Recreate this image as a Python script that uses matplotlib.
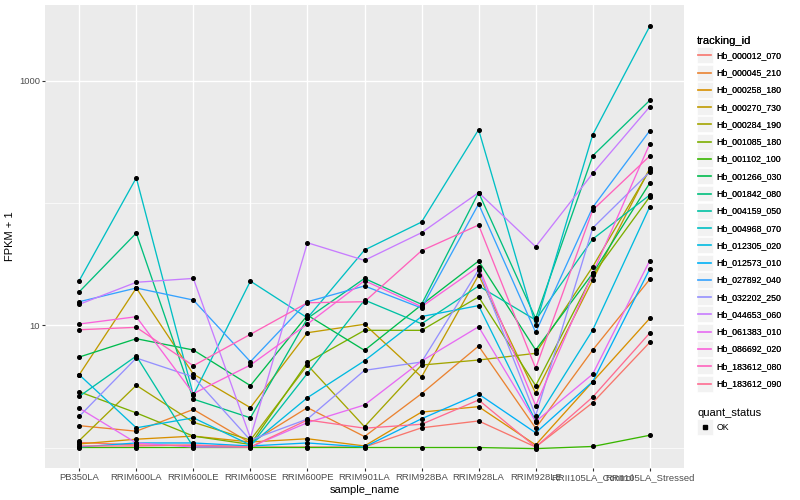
import matplotlib
matplotlib.use('Agg')
import matplotlib.pyplot as plt
from matplotlib.legend_handler import HandlerBase
from matplotlib.patches import Rectangle
from matplotlib.lines import Line2D
from matplotlib.ticker import FixedLocator, NullFormatter

plt.rcParams['font.family'] = ['Liberation Sans', 'DejaVu Sans']

samples = ["PB350LA", "RRIM600LA", "RRIM600LE", "RRIM600SE", "RRIM600PE",
           "RRIM901LA", "RRIM928BA", "RRIM928LA", "RRIM928LE",
           "RRII105LA_Control", "RRII105LA_Stressed"]

tracking_ids = ["Hb_000012_070", "Hb_000045_210", "Hb_000258_180", "Hb_000270_730",
                "Hb_000284_190", "Hb_001085_180", "Hb_001102_100", "Hb_001266_030",
                "Hb_001842_080", "Hb_004159_050", "Hb_004968_070", "Hb_012305_020",
                "Hb_012573_010", "Hb_027892_040", "Hb_032202_250", "Hb_044653_060",
                "Hb_061383_010", "Hb_086692_020", "Hb_183612_080", "Hb_183612_090"]

colors = ["#F8766D", "#EA8331", "#D89000", "#C09B00", "#A3A500", "#7CAE00", "#39B600",
          "#00BB4E", "#00BF7D", "#00C1A3", "#00BFC4", "#00BAE0", "#00B0F6", "#35A2FF",
          "#9590FF", "#C77CFF", "#E76BF3", "#FA62DB", "#FF62BC", "#FF6C91"]

# FPKM + 1 per sample (order of `samples`)
hb_000012_070 = [1.10, 1.05, 1.04, 1.01, 1.01, 1.01, 1.45, 1.65, 1.01, 2.33, 7.26]
hb_000045_210 = [1.51, 1.36, 2.05, 1.09, 2.12, 1.23, 2.76, 6.77, 1.44, 6.28, 23.8]
hb_000258_180 = [1.07, 1.17, 1.24, 1.11, 1.18, 1.03, 1.95, 2.16, 1.05, 3.46, 11.4]
hb_000270_730 = [3.94, 20.2, 3.99, 2.12, 8.70, 10.2, 3.78, 25.8, 2.78, 23.5, 193.0]
hb_000284_190 = [1.14, 3.23, 1.61, 1.15, 4.73, 1.48, 4.73, 5.20, 5.90, 30.2, 187.0]
hb_001085_180 = [2.86, 1.92, 1.24, 1.06, 4.98, 9.10, 9.10, 17.1, 3.21, 25.8, 112.8]
hb_001102_100 = [1.00, 1.00, 1.00, 1.00, 1.00, 1.00, 1.00, 1.00, 0.98, 1.02, 1.26]
hb_001266_030 = [5.50, 7.77, 6.28, 3.21, 12.1, 6.24, 14.7, 33.6, 6.28, 26.6, 146.0]
hb_001842_080 = [18.8, 56.9, 2.49, 1.75, 11.4, 24.2, 14.85, 122.0, 11.4, 244.0, 693.0]
hb_004159_050 = [2.62, 5.61, 1.01, 1.03, 4.05, 16.1, 10.3, 21.0, 11.05, 50.8, 116.5]
hb_004968_070 = [23.2, 161.0, 2.69, 23.0, 11.5, 41.3, 70.0, 399.0, 10.06, 363.0, 2800.0]
hb_012305_020 = [3.94, 1.45, 1.75, 1.05, 2.56, 5.13, 11.8, 14.5, 1.65, 9.15, 93.4]
hb_012573_010 = [1.01, 1.09, 1.09, 1.03, 1.09, 1.01, 1.72, 2.74, 1.32, 3.46, 28.9]
hb_027892_040 = [15.6, 20.2, 16.1, 5.04, 15.6, 21.0, 13.85, 98.3, 8.76, 92.4, 391.0]
hb_032202_250 = [1.80, 5.40, 3.78, 1.15, 1.71, 4.28, 5.01, 28.4, 1.82, 62.6, 180.0]
hb_044653_060 = [14.85, 22.5, 24.2, 1.20, 47.4, 34.0, 57.3, 122.0, 44.0, 175.0, 615.0]
hb_061383_010 = [2.10, 1.09, 1.01, 1.01, 1.60, 2.23, 5.10, 9.74, 1.63, 3.99, 33.9]
hb_086692_020 = [10.25, 11.76, 2.76, 4.73, 10.25, 23.2, 14.2, 30.2, 2.20, 26.6, 306.0]
hb_183612_080 = [9.20, 9.63, 4.67, 8.44, 15.3, 15.6, 40.8, 66.2, 4.45, 87.8, 243.0]
hb_183612_090 = [1.03, 1.03, 1.05, 1.01, 1.68, 1.44, 1.55, 2.45, 1.01, 2.59, 8.65]

series = [hb_000012_070, hb_000045_210, hb_000258_180, hb_000270_730, hb_000284_190,
          hb_001085_180, hb_001102_100, hb_001266_030, hb_001842_080, hb_004159_050,
          hb_004968_070, hb_012305_020, hb_012573_010, hb_027892_040, hb_032202_250,
          hb_044653_060, hb_061383_010, hb_086692_020, hb_183612_080, hb_183612_090]

quant_status = ["OK"]

W, H = 800, 500
fig = plt.figure(figsize=(8, 5), dpi=100)
fig.patch.set_facecolor('white')
ax = fig.add_axes([45 / W, (H - 468) / H, (684 - 45) / W, (468 - 5) / H])
ax.set_facecolor('#EBEBEB')
for s in ax.spines.values():
    s.set_visible(False)

x = list(range(len(samples)))
line_handles = []
for tid, col, vals in zip(tracking_ids, colors, series):
    ln, = ax.plot(x, vals, color=col, lw=0.95, zorder=2, label=tid)
    line_handles.append(ln)
for vals in series:
    ax.plot(x, vals, linestyle='none', marker='o', ms=2.6, color='black', zorder=3)

ax.set_yscale('log')
ax.set_ylim(0.68, 4180)
ax.set_xlim(-0.6, len(samples) - 1 + 0.6)
ax.yaxis.set_major_locator(FixedLocator([10, 1000]))
ax.yaxis.set_minor_locator(FixedLocator([1, 100]))
ax.yaxis.set_minor_formatter(NullFormatter())
ax.set_yticklabels(["10", "1000"])
ax.set_xticks(x)
ax.set_xticklabels(samples)
ax.grid(True, which='major', color='white', lw=1.0, zorder=0)
ax.grid(True, which='minor', axis='y', color='white', lw=0.5, zorder=0)
ax.set_axisbelow(True)
ax.tick_params(axis='both', which='major', length=2.0, width=0.8, color='#333333',
               labelsize=6.8, labelcolor='#4D4D4D', pad=1.5)
ax.tick_params(axis='y', which='minor', length=0)
ax.set_xlabel("sample_name", fontsize=8, color='black', labelpad=2)
ax.set_ylabel("FPKM + 1", fontsize=8, color='black', labelpad=3)


class KeyHandler(HandlerBase):
    def __init__(self, kind='line'):
        super().__init__()
        self.kind = kind

    def create_artists(self, legend, orig_handle, xdescent, ydescent, width, height,
                       fontsize, trans):
        bg = Rectangle((-xdescent, -ydescent), width, height, facecolor='#F2F2F2',
                       edgecolor='white', lw=0.5, transform=trans)
        yc = -ydescent + height / 2
        if self.kind == 'line':
            art = Line2D([-xdescent + 1, -xdescent + width - 1], [yc, yc],
                         color=orig_handle.get_color(), lw=1.2, transform=trans)
        else:
            art = Line2D([-xdescent + width / 2], [yc], marker='s', ms=2.6,
                         color='black', linestyle='none', transform=trans)
        return [bg, art]


common = dict(loc='upper left', frameon=False, fontsize=6.3, title_fontsize=8,
              handlelength=1.8, handleheight=2.43, labelspacing=0.15,
              handletextpad=0.45, borderpad=0, borderaxespad=0, alignment='left')

leg1 = fig.legend(handles=line_handles, labels=tracking_ids,
                  bbox_to_anchor=(697 / W, 1 - 36 / H), title="tracking_id",
                  handler_map={Line2D: KeyHandler('line')}, **common)

pt_handle = Line2D([], [], marker='s', color='black', linestyle='none')
leg2 = fig.legend(handles=[pt_handle], labels=quant_status,
                  bbox_to_anchor=(697 / W, 1 - 408 / H), title="quant_status",
                  handler_map={Line2D: KeyHandler('point')}, **common)
fig.add_artist(leg1)

fig.savefig('out.png', dpi=100, facecolor='white')
